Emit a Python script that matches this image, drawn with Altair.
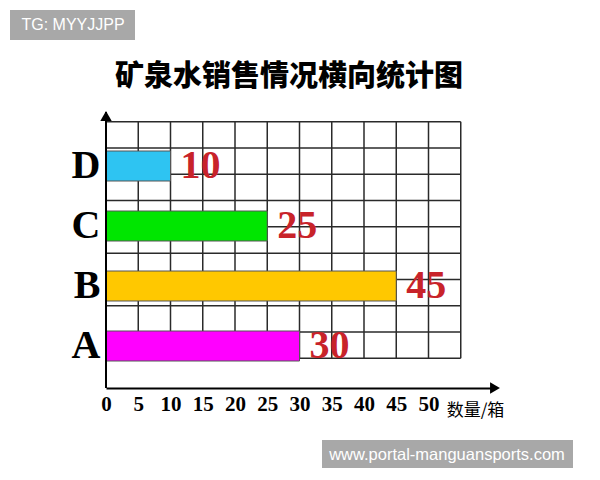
import pandas as pd
import altair as alt

# bar data
categories = ["D", "C", "B", "A"]
sales = [10, 25, 45, 30]
bar_colors = ["#2ec4f2", "#00e600", "#ffc800", "#ff00ff"]

# axis / grid
x_ticks = [0, 5, 10, 15, 20, 25, 30, 35, 40, 45, 50]
grid_cols = [0, 5, 10, 15, 20, 25, 30, 35, 40, 45, 50, 55]
grid_rows = [0, 1, 2, 3, 4, 5, 6, 7, 8, 9]

title_text = "矿泉水销售情况横向统计图"
x_title = "数量/箱"
mark_tl = "TG: MYYJJPP"
mark_br = "www.portal-manguansports.com"

W, H = 387, 276
serif = "Liberation Serif"
cjk = "Noto Sans CJK SC"

df = pd.DataFrame({"cat": categories, "sales": sales})
x_scale = alt.Scale(domain=[0, 60], nice=False)

# grid lines (own y scale, rows 0..9)
grid_y = alt.Scale(domain=[-1.13, 9.37], nice=False, zero=False)
vdf = pd.DataFrame({"x": grid_cols, "y0": min(grid_rows), "y1": max(grid_rows)})
hdf = pd.DataFrame({"y": grid_rows, "x0": min(grid_cols), "x1": max(grid_cols)})

vlines = alt.Chart(vdf).mark_rule(color="#2a2a2a", strokeWidth=1.5).encode(
    x=alt.X("x:Q", scale=x_scale, axis=None),
    y=alt.Y("y0:Q", scale=grid_y, axis=None),
    y2="y1:Q",
)
hlines = alt.Chart(hdf).mark_rule(color="#2a2a2a", strokeWidth=1.5).encode(
    x=alt.X("x0:Q", scale=x_scale, axis=None),
    x2="x1:Q",
    y=alt.Y("y:Q", scale=grid_y, axis=None),
)
grid = alt.layer(vlines, hlines)

y_enc = alt.Y(
    "cat:N",
    scale=alt.Scale(domain=categories, range=[12, H], paddingInner=0.5, paddingOuter=0.45),
    axis=alt.Axis(domain=False, ticks=False, title=None, labelFont=serif,
                  labelFontSize=40, labelFontWeight="bold", labelColor="black",
                  labelPadding=6),
)

bars = alt.Chart(df).mark_bar(stroke="#555", strokeWidth=1).encode(
    x=alt.X("sales:Q", scale=x_scale, axis=alt.Axis(
        values=x_ticks, grid=False, ticks=False, domainColor="black", domainWidth=2,
        labelFont=serif, labelFontSize=21, labelFontWeight="bold", labelColor="black",
        labelPadding=5, labelFlush=False,
        title=x_title, titleFont=cjk, titleFontSize=17, titleFontWeight="normal",
        titleColor="black", titleX=369, titleY=22, titleAlign="center",
        titleBaseline="middle")),
    y=y_enc,
    color=alt.Color("cat:N", scale=alt.Scale(domain=categories, range=bar_colors), legend=None),
)
labels = alt.Chart(df).mark_text(
    align="left", baseline="middle", dx=10, font=serif, fontSize=40,
    fontWeight="bold", color="#c8232a"
).encode(
    x=alt.X("sales:Q", scale=x_scale, axis=None),
    y=y_enc,
    text="sales:Q",
)
bar_layer = alt.layer(bars, labels).resolve_axis(x="independent")

one = pd.DataFrame({"a": [0]})
y_axis_line = alt.Chart(one).mark_rule(color="black", strokeWidth=2).encode(
    x=alt.value(0), y=alt.value(0), y2=alt.value(H)
)
arrow_up = alt.Chart(one).mark_point(shape="triangle-up", filled=True, size=130,
                                     color="black", opacity=1).encode(
    x=alt.value(0), y=alt.value(4)
)
arrow_right = alt.Chart(one).mark_point(shape="triangle-right", filled=True, size=130,
                                        color="black", opacity=1).encode(
    x=alt.value(W + 2), y=alt.value(H)
)
title = alt.Chart(pd.DataFrame({"t": [title_text]})).mark_text(
    align="center", baseline="middle", font=cjk, fontSize=29, fontWeight=900,
    color="black"
).encode(x=alt.value(183), y=alt.value(-35), text="t:N")

wm_tl_box = alt.Chart(one).mark_rect(color="#a8a8a8").encode(
    x=alt.value(-96), x2=alt.value(29), y=alt.value(-102), y2=alt.value(-72)
)
wm_tl = alt.Chart(pd.DataFrame({"t": [mark_tl]})).mark_text(
    align="center", baseline="middle", font="Liberation Sans", fontSize=16, color="white"
).encode(x=alt.value(-33), y=alt.value(-87), text="t:N")
wm_br_box = alt.Chart(one).mark_rect(color="#a8a8a8").encode(
    x=alt.value(216), x2=alt.value(467), y=alt.value(328), y2=alt.value(358)
)
wm_br = alt.Chart(pd.DataFrame({"t": [mark_br]})).mark_text(
    align="center", baseline="middle", font="Liberation Sans", fontSize=16.5, color="white"
).encode(x=alt.value(341), y=alt.value(343), text="t:N")

chart = alt.layer(
    grid, bar_layer, y_axis_line, arrow_up, arrow_right, title,
    wm_tl_box, wm_tl, wm_br_box, wm_br,
).resolve_scale(y="independent").resolve_axis(x="independent").properties(
    width=W, height=H, autosize="none",
    padding={"left": 98, "top": 104, "right": 95, "bottom": 80},
).configure_view(stroke=None)

chart.save("out.html", embed_options={"renderer": "svg", "actions": False})
